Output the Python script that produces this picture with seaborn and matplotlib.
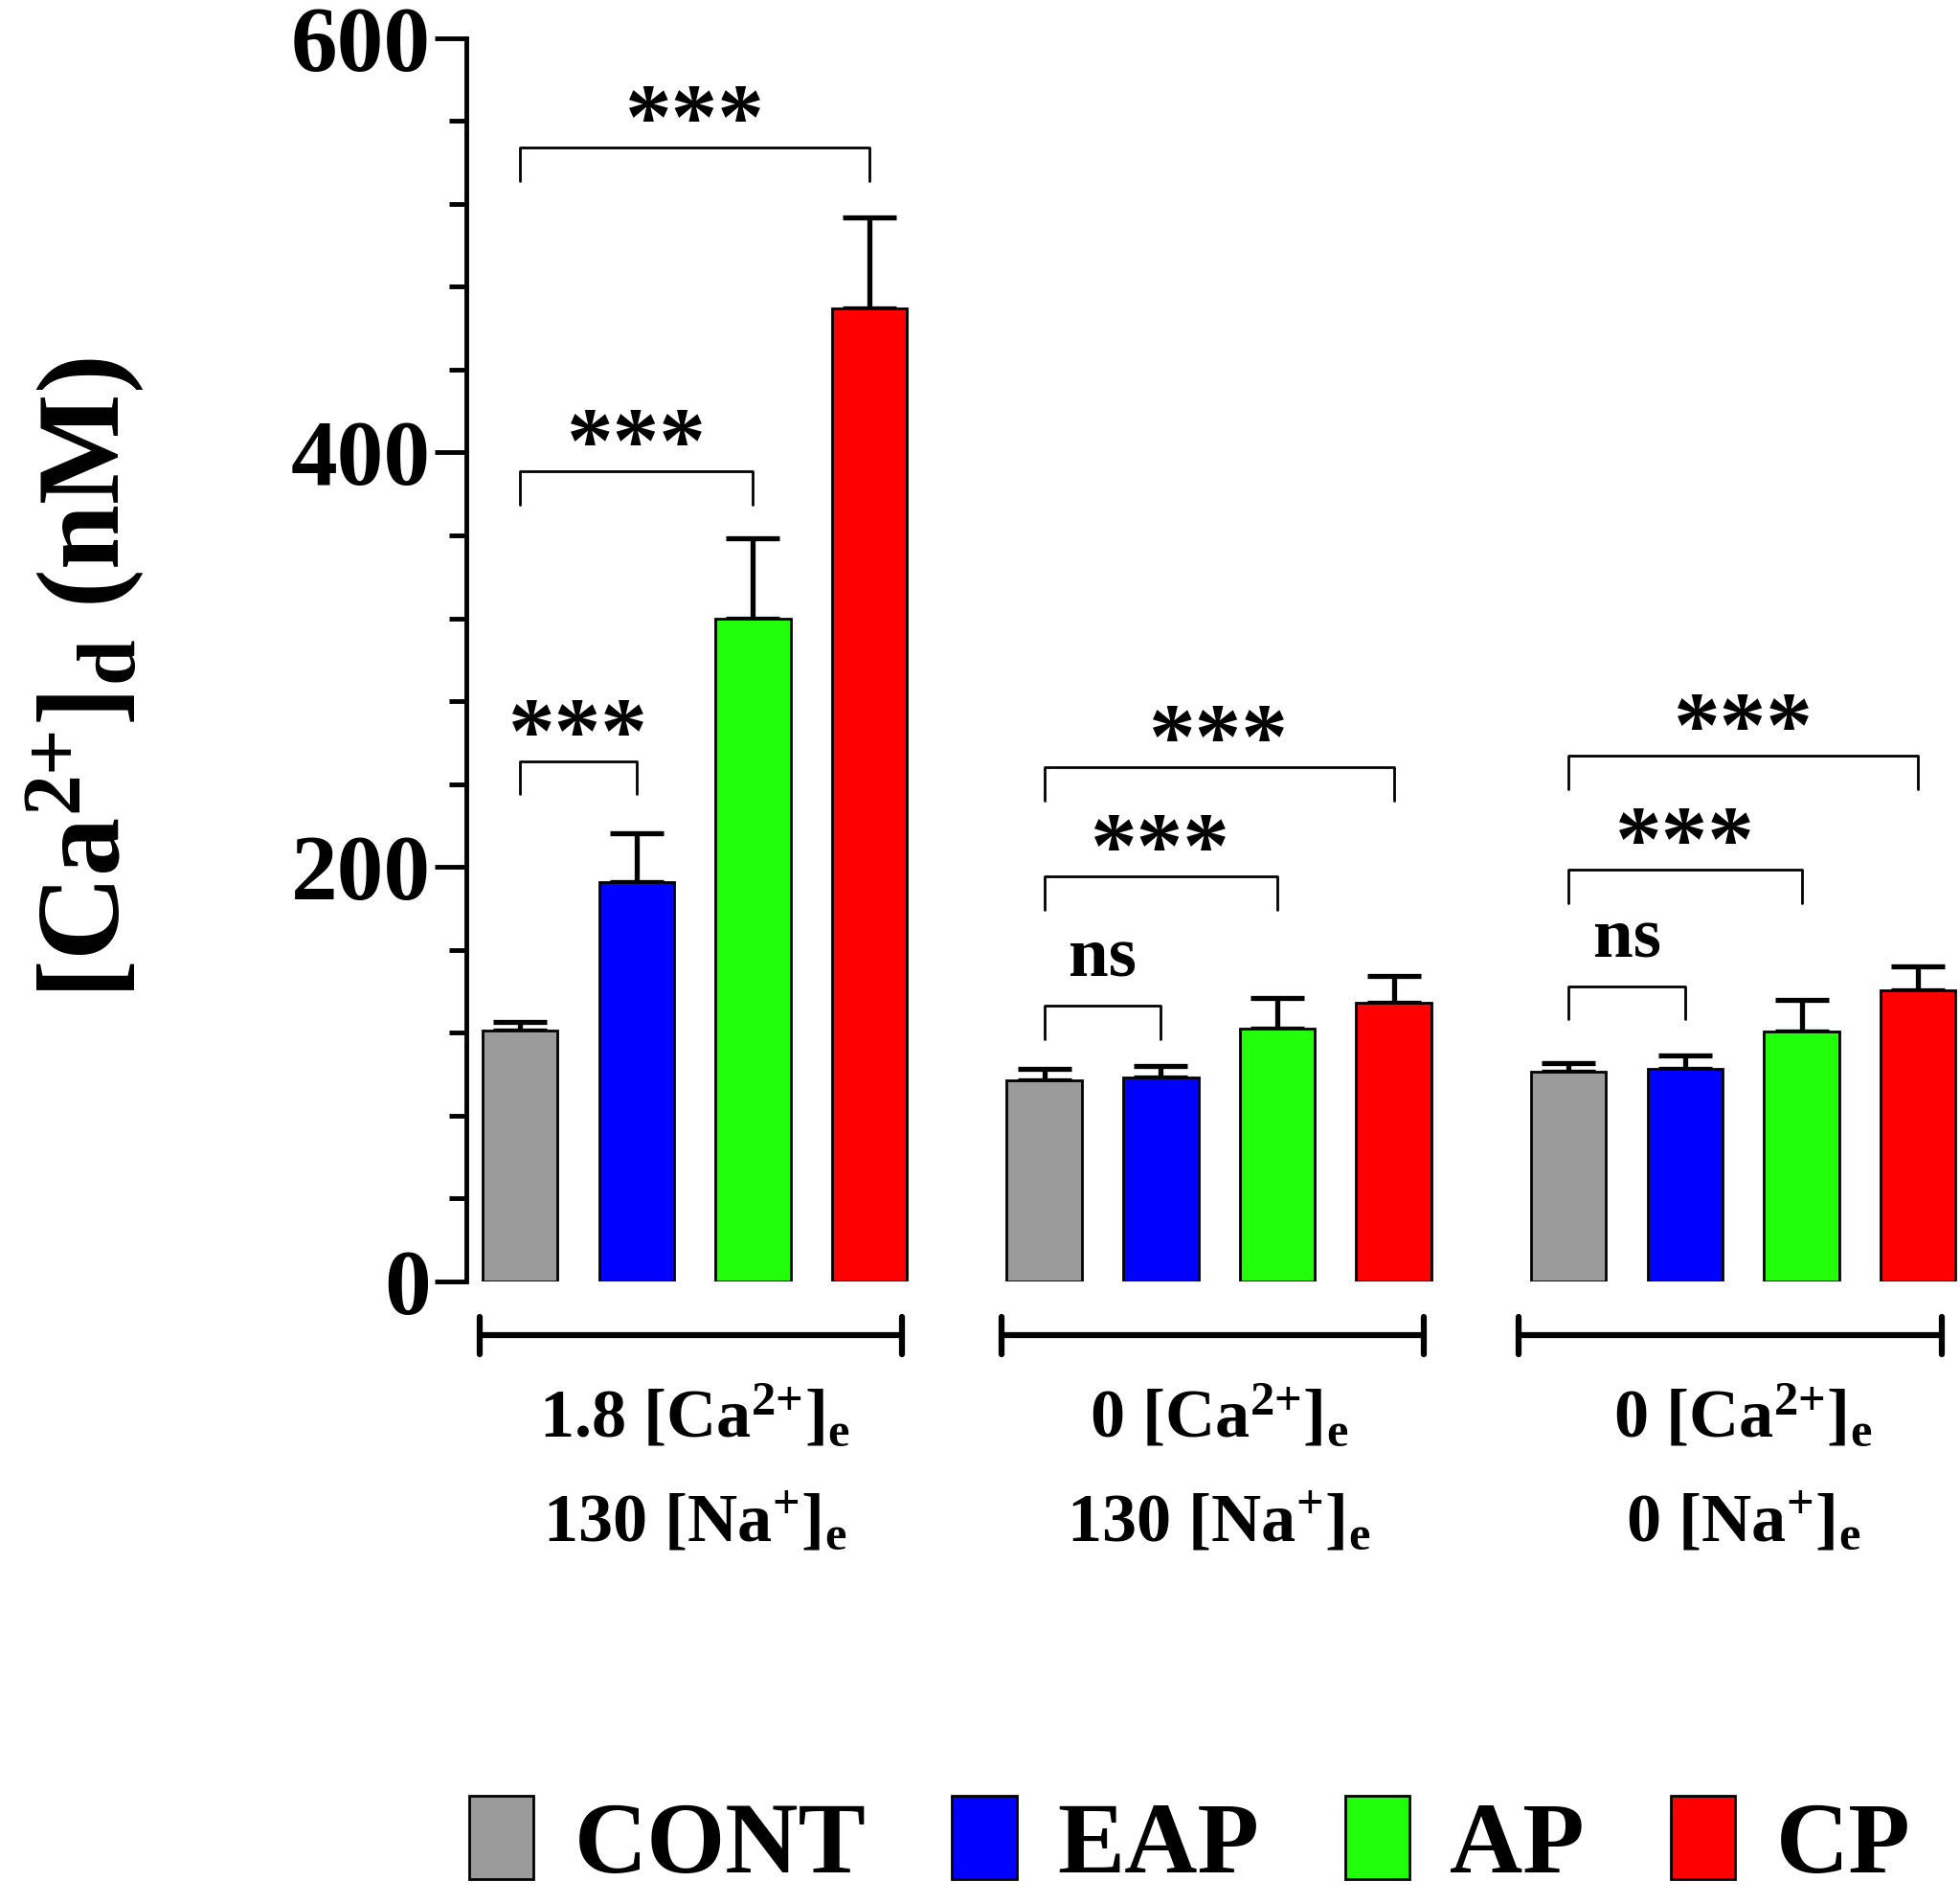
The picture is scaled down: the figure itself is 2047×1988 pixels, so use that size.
import numpy as np
import pandas as pd
import seaborn as sns
import matplotlib.pyplot as plt
from matplotlib.ticker import MultipleLocator

treatments = ['CONT', 'EAP', 'AP', 'CP']
colors = ['#9b9b9b', '#0000ff', '#22ff0a', '#ff0000']
group_start = [0, 4.5, 9]  # x of first bar in each condition

# mean values (nM)
mean_g1 = [121, 192.5, 320, 469.5]
mean_g2 = [97, 98.5, 122, 134.5]
mean_g3 = [101, 102.5, 120.5, 140.5]
# upper error (SEM)
sem_g1 = [4, 24, 38.5, 44]
sem_g2 = [5.5, 5.5, 15, 13]
sem_g3 = [4.5, 6.5, 15.5, 11.5]

cond_line1 = [r'1.8 [Ca$^{2{+}}$]$_e$', r'0 [Ca$^{2{+}}$]$_e$', r'0 [Ca$^{2{+}}$]$_e$']
cond_line2 = [r'130 [Na$^{{+}}$]$_e$', r'130 [Na$^{{+}}$]$_e$', r'0 [Na$^{{+}}$]$_e$']

# significance brackets: group, bar a, bar b, height, label
sig_group = [0, 0, 0, 1, 1, 1, 2, 2, 2]
sig_a = [0, 0, 0, 0, 0, 0, 0, 0, 0]
sig_b = [1, 2, 3, 1, 2, 3, 1, 2, 3]
sig_y = [251, 391, 547, 133, 195.5, 248, 142.5, 198.5, 253.5]
sig_text = ['***', '***', '***', 'ns', '***', '***', 'ns', '***', '***']

sns.set_style('ticks')
plt.rcParams['font.family'] = ['Liberation Serif', 'DejaVu Serif']
plt.rcParams['font.weight'] = 'bold'
plt.rcParams['text.color'] = 'black'
plt.rcParams['axes.labelcolor'] = 'black'
plt.rcParams['ytick.color'] = 'black'
plt.rcParams['axes.edgecolor'] = 'black'
plt.rcParams['mathtext.fontset'] = 'custom'
plt.rcParams['mathtext.rm'] = 'Liberation Serif:bold'
plt.rcParams['mathtext.it'] = 'Liberation Serif:bold'
plt.rcParams['mathtext.bf'] = 'Liberation Serif:bold'

means = [mean_g1, mean_g2, mean_g3]
sems = [sem_g1, sem_g2, sem_g3]
rows = []
for g in range(3):
    for i, t in enumerate(treatments):
        rows.append({'pos': group_start[g] + i, 'value': means[g][i],
                     'sem': sems[g][i], 'treat': t})
df = pd.DataFrame(rows)

fig = plt.figure(figsize=(20.47, 19.88), dpi=100)
ax = fig.add_axes([0.238, 0.327, 0.762, 0.653])

sns.barplot(data=df, x='pos', y='value', hue='treat', hue_order=treatments,
            palette=colors, saturation=1, native_scale=True, dodge=False,
            width=0.645, edgecolor='black', linewidth=2, errorbar=None,
            ax=ax, zorder=2)

# upper error bars only
ax.errorbar(df['pos'], df['value'], yerr=[np.zeros(len(df)), df['sem']],
            fmt='none', ecolor='black', elinewidth=3.8, capsize=20,
            capthick=3.8, zorder=1)

ax.set_xlim(-0.46, 12.36)
ax.set_ylim(0, 600)
ax.yaxis.set_major_locator(MultipleLocator(200))
ax.yaxis.set_minor_locator(MultipleLocator(40))
ax.tick_params(axis='y', which='major', labelsize=70, width=3.5, length=24, pad=3)
ax.tick_params(axis='y', which='minor', width=3.5, length=13)
ax.set_xticks([])
ax.set_xlabel('')
for s in ['top', 'right', 'bottom']:
    ax.spines[s].set_visible(False)
ax.spines['left'].set_linewidth(3.5)

ax.set_ylabel(r'[Ca$^{2{+}}$]$_d$ (nM)', fontsize=88, fontweight='bold')
ax.yaxis.set_label_coords(-0.215, 0.485)

# significance brackets
for k in range(len(sig_y)):
    x1 = group_start[sig_group[k]] + sig_a[k]
    x2 = group_start[sig_group[k]] + sig_b[k]
    y = sig_y[k]
    ax.plot([x1, x1, x2, x2], [y - 16, y, y, y - 16], color='black', lw=2)
    if sig_text[k] == 'ns':
        ax.text((x1 + x2) / 2, y + 14, 'ns', ha='center', va='baseline',
                fontsize=54, fontweight='bold')
    else:
        ax.text((x1 + x2) / 2, y, '***', ha='center', va='baseline',
                fontsize=70, fontweight='bold')

# condition brackets under the bars
brk_left = [-0.35, -0.37, -0.43]
brk_right = [3.28, 3.26, 3.2]
for g in range(3):
    xa = group_start[g] + brk_left[g]
    xb = group_start[g] + brk_right[g]
    ax.plot([xa, xb], [-26, -26], color='black', lw=4.5, clip_on=False)
    ax.plot([xa, xa], [-17, -35], color='black', lw=4.5, clip_on=False)
    ax.plot([xb, xb], [-17, -35], color='black', lw=4.5, clip_on=False)
    xc = group_start[g] + 1.5
    ax.text(xc, -75, cond_line1[g], ha='center', va='baseline',
            fontsize=52, fontweight='bold', clip_on=False)
    ax.text(xc, -125, cond_line2[g], ha='center', va='baseline',
            fontsize=52, fontweight='bold', clip_on=False)

handles, labels = ax.get_legend_handles_labels()
ax.legend(handles, labels, loc='center', bbox_to_anchor=(0.607, 0.031),
          bbox_transform=fig.transFigure, ncol=4, frameon=False,
          prop={'size': 76, 'weight': 'bold'}, handlelength=0.64,
          handleheight=0.9, handletextpad=0.4, columnspacing=0.85,
          borderpad=0.1)

fig.savefig('out.png', dpi=100)
